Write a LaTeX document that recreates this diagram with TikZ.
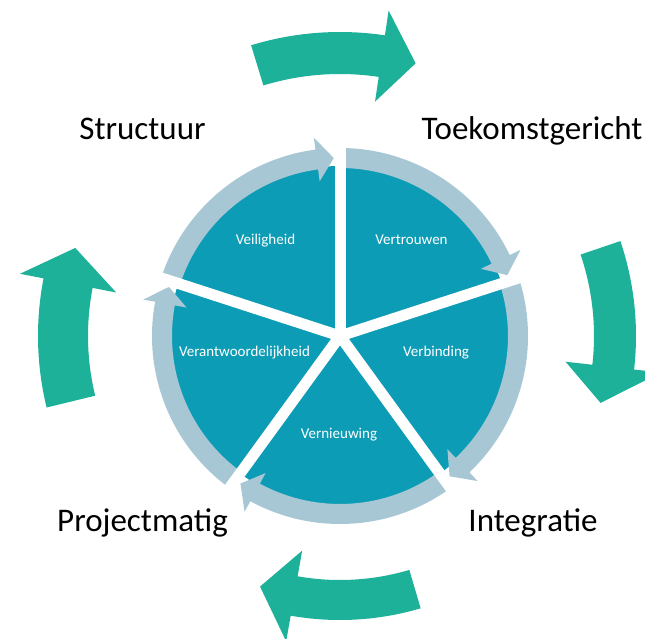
\documentclass[tikz,border=0pt]{standalone}
\usepackage{fontspec}
\setmainfont{Carlito}
\definecolor{pieteal}{RGB}{13,156,181}
\definecolor{ringblue}{RGB}{168,199,212}
\definecolor{arrowgreen}{RGB}{29,177,154}
% #1 tail angle, #2 head base angle, #3 tip angle, #4 inner r, #5 outer r, #6 head overhang, #7 tip r
\newcommand{\bigcurvedarrow}[7]{%
  \fill[arrowgreen] (#1:#5) arc[start angle=#1,end angle=#2,radius=#5]
    -- ({#2}:{#5+#6}) -- ({#3}:{#7}) -- ({#2}:{#4-#6}) -- ({#2}:{#4})
    arc[start angle=#2,end angle=#1,radius=#4] -- cycle;}
% #1 tail angle, #2 tip angle
\newcommand{\ringcurvedarrow}[2]{%
  \fill[ringblue] (#1:188) arc[start angle=#1,end angle={#2+5.5},radius=188]
    -- ({#2+5.5}:200) -- ({#2}:178) -- ({#2+5.5}:156) -- ({#2+5.5}:168)
    arc[start angle={#2+5.5},end angle=#1,radius=168] -- cycle;}
\tikzset{
  biglabel/.style={inner sep=0pt, anchor=base, font=\fontsize{33}{40}\selectfont, text=black},
  slicelabel/.style={inner sep=0pt, anchor=base, font=\fontsize{15}{18}\selectfont, text=white},
  separator/.style={draw=white, line width=11pt},
}
\begin{document}
\begin{tikzpicture}[x=1pt,y=1pt]
\useasboundingbox (0,0) rectangle (645,638);
\clip (0,0) rectangle (645,638);
\fill[white] (0,0) rectangle (645,638);
\begin{scope}[shift={(340,302)}]
  % big green arrows
  \bigcurvedarrow{107}{81.5}{74.5}{262}{304}{25}{283}
  \bigcurvedarrow{18.7}{-6.5}{-14.4}{254}{296}{27}{269}
  \bigcurvedarrow{286.5}{260}{252.3}{244}{284}{26}{263}
  \bigcurvedarrow{193.7}{169}{161.6}{252}{302}{24}{279}
  % pie
  \fill[pieteal] (0,0) circle[radius=170];
  % ring arrows
  \ringcurvedarrow{162}{92}
  \ringcurvedarrow{90}{20}
  \ringcurvedarrow{18}{-52}
  \ringcurvedarrow{-54}{-124}
  \ringcurvedarrow{234}{164}
  % separators
  \coordinate (c) at (0,0);
  \foreach \a in {90,18,-54,-126,162}{
    \coordinate (e\a) at (\a:212);
    \draw[separator] (c) -- (e\a);
  }
\end{scope}
% slice labels
\node[slicelabel] (veil) at (265.5,393) {Veiligheid};
\node[slicelabel] (vert) at (411.5,393) {Vertrouwen};
\node[slicelabel] (verb) at (436,281) {Verbinding};
\node[slicelabel] (vera) at (244.5,281) {Verantwoordelijkheid};
\node[slicelabel] (vern) at (339,200) {Vernieuwing};
% outer labels
\node[biglabel] (struct) at (142.5,498) {Structuur};
\node[biglabel] (toek) at (532,498) {Toekomstgericht};
\node[biglabel] (proj) at (142.5,107) {Projectmatig};
\node[biglabel] (integ) at (533,107) {Integratie};
\end{tikzpicture}
\end{document}
